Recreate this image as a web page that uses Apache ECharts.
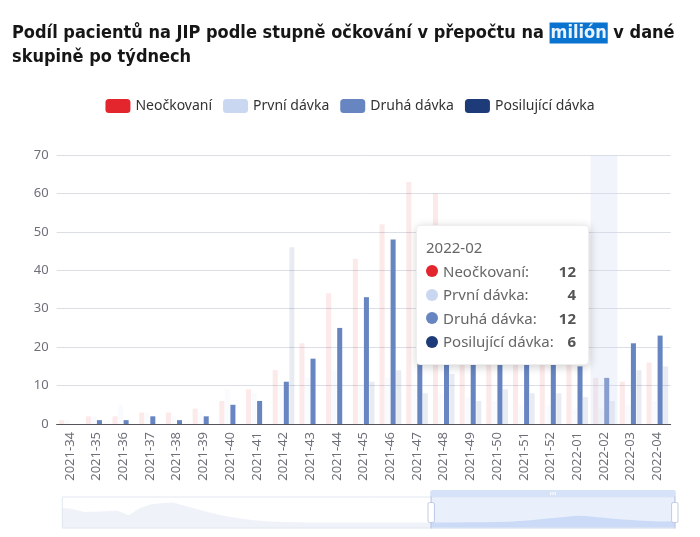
<!DOCTYPE html>
<html>
<head>
<meta charset="utf-8">
<script src="https://cdn.jsdelivr.net/npm/echarts@6/dist/echarts.min.js"></script>
<style>
  html, body { margin: 0; padding: 0; background: #fff; }
  #main { width: 700px; height: 537px; }
</style>
</head>
<body>
<div id="main"></div>
<script>
// weeks 2021-01 .. 2022-04, the chart window shows the last 23
const weeks = [];
for (let w = 1; w <= 52; w++) weeks.push('2021-' + String(w).padStart(2, '0'));
for (let w = 1; w <= 4; w++) weeks.push('2022-' + String(w).padStart(2, '0'));

const seriesNames = ['Neočkovaní', 'První dávka', 'Druhá dávka', 'Posilující dávka'];
const seriesColors = ['#e3262e', '#c9d7f1', '#6785c1', '#1d3b78'];

const neockovani = [
  136, 125, 97, 100, 106, 110, 68, 136, 170, 182, 186, 155, 128, 100, 75, 55, 38,
  24, 15, 9, 5, 3, 2, 1, 1, 1, 1, 1, 1, 1, 1, 1, 1,
  1, 2, 2, 3, 3, 4, 6, 9, 14, 21, 34, 43, 52, 63, 60, 50, 40, 32, 24, 17, 12, 11, 16
];
const prvniDavka = [
  0, 0, 0, 0, 2, 5, 8, 12, 15, 18, 20, 18, 15, 12, 9, 7, 5,
  4, 3, 2, 2, 1, 1, 1, 1, 1, 1, 1, 1, 1, 1, 1, 1,
  1, 2, 5, 3, 2, 3, 9, 8, 10, 12, 14, 10, 12, 9, 8, 7, 6, 5, 5, 4, 4, 5, 6
];
const druhaDavka = [
  0, 0, 0, 0, 0, 0, 1, 2, 3, 5, 7, 8, 8, 6, 5, 4, 3,
  2, 1, 1, 1, 1, 0, 0, 0, 1, 0, 1, 0, 1, 1, 0, 1,
  0, 1, 1, 2, 1, 2, 5, 6, 11, 17, 25, 33, 48, 45, 40, 34, 28, 24, 19, 15, 12, 21, 23
];
const posilujiciDavka = [
  0, 0, 0, 0, 0, 0, 0, 0, 0, 0, 0, 0, 0, 0, 0, 0, 0,
  0, 0, 0, 0, 0, 0, 0, 0, 0, 0, 0, 0, 0, 0, 0, 0,
  0, 0, 0, 0, 0, 0, 0, 0, 46, 0, 0, 11, 14, 8, 13, 6, 9, 8, 8, 7, 6, 14, 15
];
const yTicks = [0, 10, 20, 30, 40, 50, 60, 70];

const uiFont = "'Noto Sans', 'Open Sans', sans-serif";
const titleFont = "'DejaVu Sans Condensed', 'Roboto', sans-serif";

function tooltipHtml(params) {
  let html = '<div style="width:150px;line-height:23.5px;font-size:15px;color:#666;font-family:' + uiFont + '">';
  html += '<div>' + params[0].axisValue + '</div>';
  params.forEach(function (p) {
    html += '<div style="display:flex;align-items:center">' +
      '<span style="display:inline-block;width:12px;height:12px;border-radius:6px;margin-right:5px;background:' + seriesColors[p.seriesIndex] + '"></span>' +
      '<span style="flex:1">' + p.seriesName + ':</span>' +
      '<b style="color:#555">' + p.value + '</b></div>';
  });
  return html + '</div>';
}

const dataSets = [neockovani, prvniDavka, druhaDavka, posilujiciDavka];

const option = {
  animation: false,
  color: seriesColors,
  title: {
    left: 7,
    top: 16,
    text: '{a|Podíl pacientů na JIP podle stupně očkování v přepočtu na }{hl|milión}{a| v dané}\n{a|skupině po týdnech}',
    textStyle: {
      rich: {
        a: { fontFamily: titleFont, fontWeight: 'bold', fontSize: 18, color: '#161616', lineHeight: 24 },
        hl: { fontFamily: titleFont, fontWeight: 'bold', fontSize: 18, color: '#e8f3ff', backgroundColor: '#0a72cf', lineHeight: 24, padding: [2, 1, 1, 1] }
      }
    }
  },
  legend: {
    top: 94,
    left: 'center',
    itemWidth: 25,
    itemHeight: 14,
    itemGap: 11,
    textStyle: { fontFamily: uiFont, fontSize: 14, color: '#333' },
    data: seriesNames
  },
  tooltip: {
    trigger: 'axis',
    alwaysShowContent: true,
    transitionDuration: 0,
    position: [416, 225],
    padding: [10, 12, 10, 9],
    borderWidth: 1,
    borderColor: '#eee',
    axisPointer: {
      type: 'shadow',
      triggerEmphasis: false,
      shadowStyle: { color: 'rgba(210,219,238,0.3)' }
    },
    formatter: tooltipHtml
  },
  grid: { left: 56.6, right: 29.3, top: 155, bottom: 113 },
  xAxis: {
    type: 'category',
    data: weeks,
    axisLabel: { rotate: 90, fontFamily: uiFont, fontSize: 13, color: '#6e7079', interval: 0 }
  },
  yAxis: {
    type: 'value',
    min: yTicks[0],
    max: yTicks[yTicks.length - 1],
    interval: 10,
    axisLabel: { fontFamily: uiFont, fontSize: 13, color: '#6e7079' }
  },
  dataZoom: [
    { type: 'inside', start: 60, end: 100 },
    {
      type: 'slider', start: 60, end: 100, left: 59, right: 27, bottom: 15, height: 32,
      showDetail: false,
      borderColor: '#e2e7f1',
      fillerColor: 'rgba(167,196,245,0.25)',
      moveHandleStyle: { color: '#d6e2f7', opacity: 1 },
      dataBackground: {
        lineStyle: { opacity: 0 },
        areaStyle: { color: 'rgba(210,219,238,0.35)', opacity: 1 }
      },
      selectedDataBackground: {
        lineStyle: { opacity: 0 },
        areaStyle: { color: 'rgba(140,175,235,0.35)', opacity: 1 }
      }
    }
  ],
  series: seriesNames.map(function (name, i) {
    return {
      name: name,
      type: 'bar',
      data: dataSets[i],
      itemStyle: { color: seriesColors[i] },
      emphasis: { focus: 'series', itemStyle: { color: seriesColors[i] } },
      blur: { itemStyle: { opacity: 0.1 } }
    };
  })
};

const chart = echarts.init(document.getElementById('main'));
chart.setOption(option);

const hoverIndex = weeks.indexOf('2022-02');
chart.dispatchAction({ type: 'showTip', seriesIndex: 2, dataIndex: hoverIndex });
chart.dispatchAction({ type: 'highlight', seriesIndex: 2, dataIndex: hoverIndex });
</script>
</body>
</html>
